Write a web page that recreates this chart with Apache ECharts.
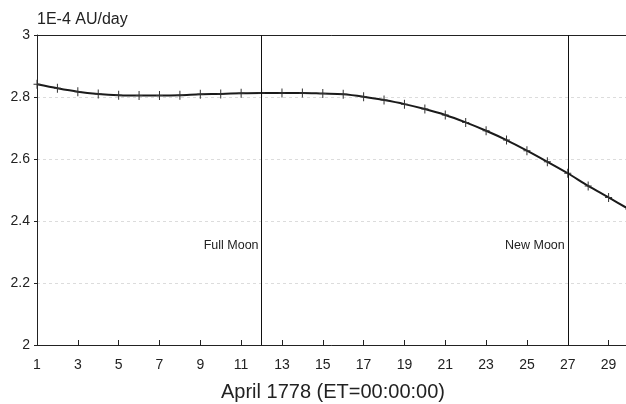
<!DOCTYPE html>
<html>
<head>
<meta charset="utf-8">
<script src="https://cdn.jsdelivr.net/npm/echarts@6/dist/echarts.min.js"></script>
<style>
  html, body { margin: 0; padding: 0; background: #fff; }
  #chart { width: 626px; height: 404px; }
</style>
</head>
<body>
<div id="chart"></div>
<script>
// Days of April 1778 (0h ET)
const days = [1,2,3,4,5,6,7,8,9,10,11,12,13,14,15,16,17,18,19,20,21,22,23,24,25,26,27,28,29,30];
// Moon's velocity, units of 1E-4 AU/day
const velocity = [2.841,2.828,2.817,2.810,2.806,2.805,2.805,2.806,2.809,2.810,
                  2.812,2.813,2.813,2.813,2.811,2.809,2.801,2.790,2.777,2.761,
                  2.742,2.718,2.691,2.661,2.627,2.591,2.554,2.513,2.476,2.438];
// Lunar phase events
const phaseDays = ['12', '27'];
const phaseNames = ['Full Moon', 'New Moon'];
const phaseLabelY = 2.32;
// Y axis ticks
const yMin = 2, yMax = 3, yStep = 0.2;

const chart = echarts.init(document.getElementById('chart'));
const font = 'Liberation Sans, Arial, sans-serif';

chart.setOption({
  backgroundColor: '#fff',
  animation: false,
  title: {
    text: '1E-4 AU/day',
    left: 32, top: 7,
    textStyle: { fontFamily: font, fontSize: 16, fontWeight: 'normal', color: '#222' }
  },
  grid: { left: 37, top: 35, width: 592, height: 310, outerBoundsMode: 'none', containLabel: false },
  xAxis: [{
    type: 'category',
    data: days.map(String),
    boundaryGap: false,
    name: 'April 1778 (ET=00:00:00)',
    nameLocation: 'middle',
    nameGap: 37,
    nameTextStyle: { fontFamily: font, fontSize: 20, color: '#222' },
    axisLine: { lineStyle: { color: '#222', width: 1 } },
    axisTick: { inside: true, length: 5, interval: 1, lineStyle: { color: '#222' } },
    axisLabel: { interval: 1, margin: 13, fontFamily: font, fontSize: 14, color: '#222' },
    splitLine: { show: false }
  }, {
    type: 'category',
    data: days.map(String),
    boundaryGap: false,
    position: 'top',
    axisLine: { lineStyle: { color: '#222', width: 1 } },
    axisTick: { show: false },
    axisLabel: { show: false },
    splitLine: { show: false }
  }],
  yAxis: {
    type: 'value',
    min: yMin, max: yMax, interval: yStep,
    axisLine: { show: true, lineStyle: { color: '#222', width: 1 } },
    axisTick: { show: true, length: 3, lineStyle: { color: '#222' } },
    axisLabel: {
      margin: 7, fontFamily: font, fontSize: 14, color: '#222',
      formatter: v => String(Math.round(v * 10) / 10)
    },
    splitLine: { show: true, lineStyle: { color: '#dcdcdc', type: [3, 3], width: 1 } }
  },
  series: [{
    type: 'line',
    data: velocity,
    smooth: 0.3,
    lineStyle: { color: '#1a1a1a', width: 2 },
    symbol: 'path://M-0.5,-4.5h1v9h-1z M-3.5,-0.5h7v1h-7z',
    symbolSize: [7, 9],
    itemStyle: { color: '#333' },
    markLine: {
      silent: true,
      symbol: 'none',
      label: { show: false },
      lineStyle: { color: '#111', width: 1, type: 'solid' },
      data: phaseDays.map(d => ({ xAxis: d }))
    },
    markPoint: {
      silent: true,
      symbol: 'circle',
      symbolSize: 0,
      label: {
        show: true,
        position: 'left',
        distance: 3,
        fontFamily: font,
        fontSize: 12.5,
        color: '#222',
        formatter: p => p.name
      },
      data: phaseDays.map((d, i) => ({ name: phaseNames[i], coord: [d, phaseLabelY] }))
    }
  }]
});
</script>
</body>
</html>
